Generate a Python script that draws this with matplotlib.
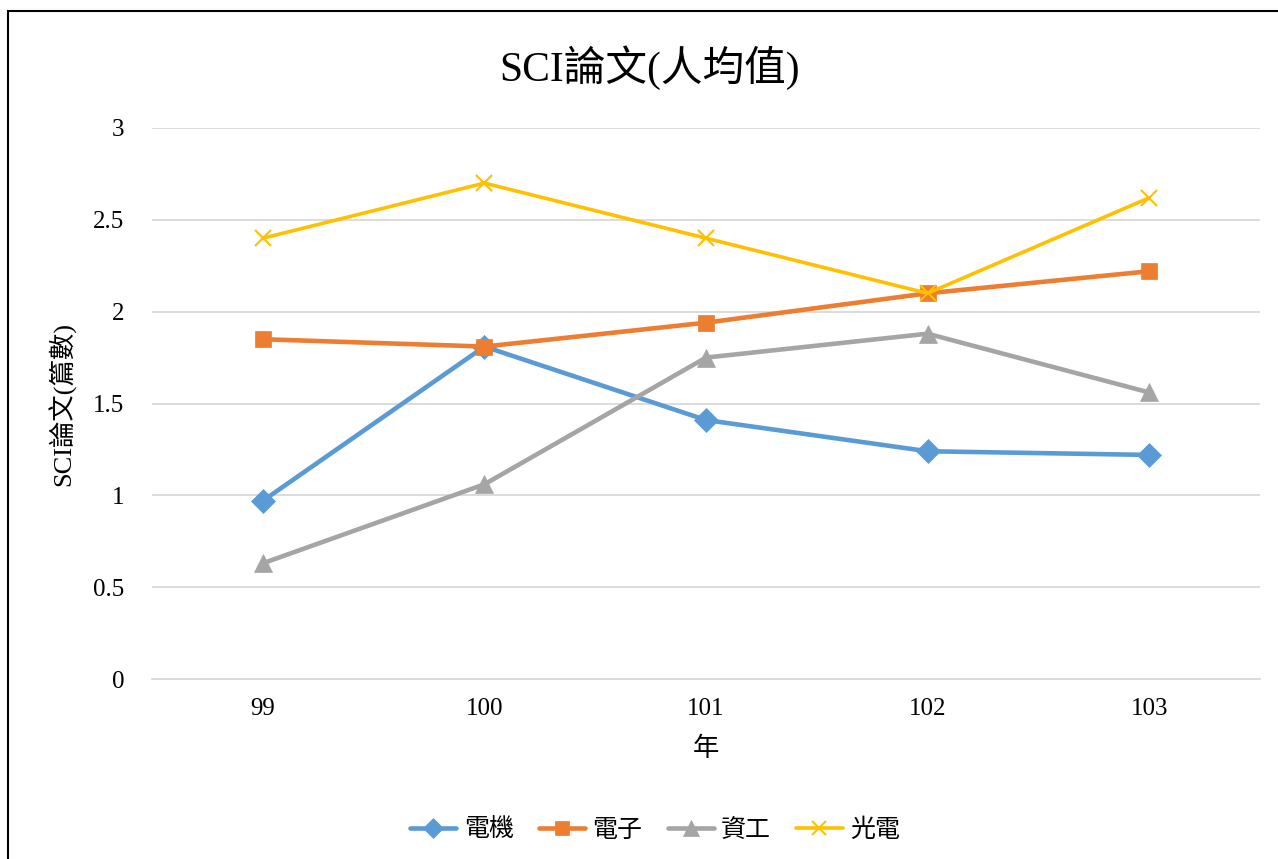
import matplotlib
matplotlib.use("Agg")
import matplotlib.pyplot as plt
from matplotlib.patches import Rectangle

plt.rcParams['font.family'] = ['Liberation Serif', 'Noto Sans CJK TC', 'DejaVu Sans']

years = ['99', '100', '101', '102', '103']
series_names = ['電機', '電子', '資工', '光電']
ee = [0.97, 1.81, 1.41, 1.24, 1.22]
elec = [1.85, 1.81, 1.94, 2.10, 2.22]
cs = [0.63, 1.06, 1.75, 1.88, 1.56]
opto = [2.40, 2.70, 2.40, 2.10, 2.62]
yticks = [0, 0.5, 1, 1.5, 2, 2.5, 3]
ytick_labels = ['0', '0.5', '1', '1.5', '2', '2.5', '3']

title = 'SCI論文(人均值)'
xlabel = '年'
ylabel = 'SCI論文(篇數)'

colors = ['#5B9BD5', '#ED7D31', '#A5A5A5', '#FFC000']
markers = ['D', 's', '^', 'x']
msizes = [12, 12, 13, 12]
lws = [3.3, 3.3, 3.3, 2.6]

fig = plt.figure(figsize=(12.78, 8.59), dpi=100)
ax = fig.add_axes([152/1278, 1-679/859, (1260-152)/1278, (679-128)/859])

x = list(range(len(years)))
for vals, name, c, m, ms, lw in zip([ee, elec, cs, opto], series_names, colors, markers, msizes, lws):
    ax.plot(x, vals, color=c, lw=lw, marker=m, markersize=ms, label=name,
            markeredgewidth=(1.5 if m == 'x' else 0.5), markeredgecolor=c,
            solid_capstyle='round', solid_joinstyle='round', zorder=3)

ax.set_xlim(-0.5, 4.5)
ax.set_ylim(0, 3)
ax.set_yticks(yticks)
ax.set_yticklabels(ytick_labels)
ax.set_xticks(x)
ax.set_xticklabels(years)
ax.grid(axis='y', color='#D9D9D9', lw=1.3, zorder=0)
ax.set_axisbelow(True)
for s in ['top', 'right', 'left']:
    ax.spines[s].set_visible(False)
ax.spines['bottom'].set_color('#D9D9D9')
ax.spines['bottom'].set_linewidth(1.3)
ax.tick_params(axis='both', length=0, labelsize=18, colors='#000000')
ax.tick_params(axis='y', pad=20)
ax.tick_params(axis='x', pad=14)

ax.set_xlabel(xlabel, fontsize=19, labelpad=12)
ax.set_ylabel(ylabel, fontsize=19, labelpad=12)

fig.text(650/1278, 1-68/859, title, ha='center', va='center', fontsize=30)

leg = fig.legend(loc='center', bbox_to_anchor=(655/1278, 1-830/859), ncol=4,
                 frameon=False, fontsize=18, handlelength=1.85, columnspacing=1.0,
                 handletextpad=0.3, markerscale=0.85)

fig.patches.append(Rectangle((8/1278, -0.05), 1.2, 1 - 11/859 + 0.05,
                             transform=fig.transFigure, fill=False,
                             edgecolor='black', lw=1.5))

fig.savefig('out.png', dpi=100)
